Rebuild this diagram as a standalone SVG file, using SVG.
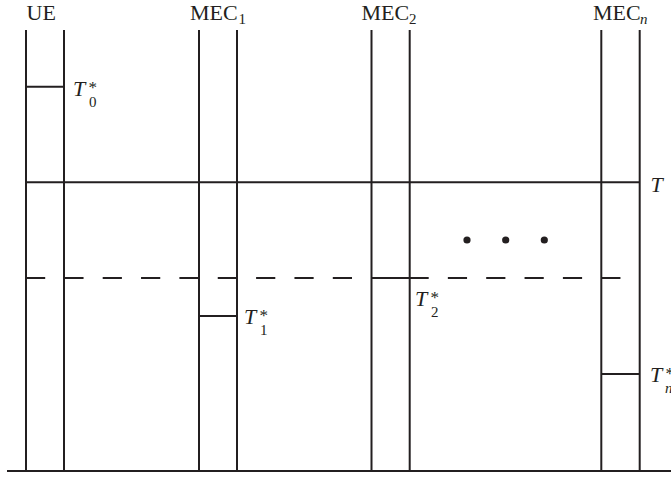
<svg xmlns="http://www.w3.org/2000/svg" width="671" height="477" viewBox="0 0 671 477">
<style>
  .ln { stroke: #231f20; stroke-width: 2; fill: none; }
  .dash { stroke: #231f20; stroke-width: 2; fill: none; stroke-dasharray: 19.2 19.15; }
  .lbl { font-family: "Liberation Serif", "Times New Roman", serif; font-size: 22px; fill: #231f20; }
  .sub { font-family: "Liberation Serif", "Times New Roman", serif; font-size: 15px; fill: #231f20; }
  .ast { font-family: "Liberation Serif", "Times New Roman", serif; font-size: 17px; fill: #231f20; }
  .it { font-style: italic; }
</style>
<rect width="671" height="477" fill="#ffffff"/>

<g id="UE">
  <line class="ln" x1="26" y1="30" x2="26" y2="471"/>
  <line class="ln" x1="64" y1="30" x2="64" y2="471"/>
  <line class="ln" x1="26" y1="86.7" x2="64" y2="86.7"/>
  <text class="lbl" x="26.5" y="20">UE</text>
  <text class="lbl it" x="73" y="96">T</text>
  <text class="ast" x="88.5" y="93">*</text>
  <text class="sub" x="89" y="106.5">0</text>
</g>

<g id="MEC1">
  <line class="ln" x1="199" y1="30" x2="199" y2="471"/>
  <line class="ln" x1="237" y1="30" x2="237" y2="471"/>
  <line class="ln" x1="199" y1="316" x2="237" y2="316"/>
  <text class="lbl" x="190" y="20">MEC</text>
  <text class="sub" x="238.5" y="24">1</text>
  <text class="lbl it" x="244" y="324">T</text>
  <text class="ast" x="259.5" y="321">*</text>
  <text class="sub" x="260" y="335">1</text>
</g>

<g id="MEC2">
  <line class="ln" x1="371.5" y1="30" x2="371.5" y2="471"/>
  <line class="ln" x1="409.7" y1="30" x2="409.7" y2="471"/>
  <line class="ln" x1="371.5" y1="278" x2="409.7" y2="278"/>
  <text class="lbl" x="361.5" y="20">MEC</text>
  <text class="sub" x="409" y="24">2</text>
  <text class="lbl it" x="415" y="306">T</text>
  <text class="ast" x="430.5" y="303">*</text>
  <text class="sub" x="431" y="317">2</text>
</g>

<g id="MECn">
  <line class="ln" x1="601.3" y1="30" x2="601.3" y2="471"/>
  <line class="ln" x1="639.7" y1="30" x2="639.7" y2="471"/>
  <line class="ln" x1="601.3" y1="374" x2="639.7" y2="374"/>
  <text class="lbl" x="593" y="20">MEC</text>
  <text class="sub it" x="640" y="24">n</text>
  <text class="lbl it" x="650" y="382">T</text>
  <text class="ast" x="665.5" y="379">*</text>
  <text class="sub it" x="665" y="392.5">n</text>
</g>

<g id="connectors">
  <line class="ln" x1="26" y1="182.3" x2="639.7" y2="182.3"/>
  <line class="dash" x1="26" y1="278" x2="621" y2="278"/>
  <line class="ln" x1="7" y1="471" x2="671" y2="471"/>
  <text class="lbl it" x="650.5" y="192">T</text>
</g>

<g id="ellipsis" fill="#231f20">
  <circle cx="467" cy="240" r="3.6"/>
  <circle cx="505.7" cy="240" r="3.6"/>
  <circle cx="544.3" cy="240" r="3.6"/>
</g>
</svg>
